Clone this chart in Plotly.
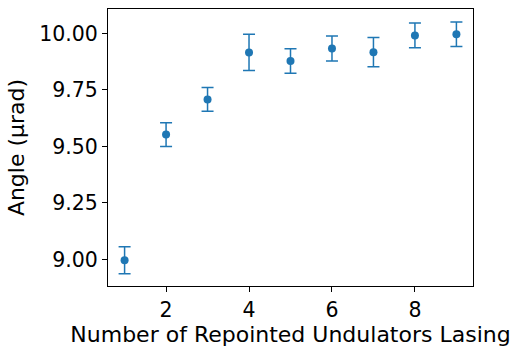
import plotly.graph_objects as go

n_undulators = [1, 2, 3, 4, 5, 6, 7, 8, 9]
angle = [8.996, 9.552, 9.708, 9.916, 9.878, 9.933, 9.917, 9.991, 9.996]
angle_err = [0.060, 0.053, 0.053, 0.080, 0.054, 0.055, 0.065, 0.055, 0.054]

x_ticks = [2, 4, 6, 8]
y_ticks = [9.00, 9.25, 9.50, 9.75, 10.00]
y_tick_labels = ["9.00", "9.25", "9.50", "9.75", "10.00"]

color = "#1f77b4"
font = "DejaVu Sans"

fig = go.Figure(
    go.Scatter(
        x=n_undulators,
        y=angle,
        mode="markers",
        marker=dict(color=color, size=8),
        error_y=dict(type="data", array=angle_err, visible=True,
                     color=color, thickness=1.5, width=6),
    )
)

fig.update_layout(
    width=516,
    height=348,
    margin=dict(l=108, r=43, t=8, b=59),
    paper_bgcolor="white",
    plot_bgcolor="white",
    showlegend=False,
    font=dict(family=font, size=20.5, color="black"),
)

fig.update_xaxes(
    range=[0.6, 9.4],
    tickvals=x_ticks,
    ticks="outside",
    ticklen=5,
    tickcolor="black",
    showgrid=False,
    zeroline=False,
    showline=True,
    linecolor="black",
    linewidth=1,
    mirror=True,
    title=dict(text="Number of Repointed Undulators Lasing", font=dict(size=22), standoff=3),
)
fig.update_yaxes(
    range=[8.882, 10.108],
    tickvals=y_ticks,
    ticktext=y_tick_labels,
    ticks="outside",
    ticklen=5,
    tickcolor="black",
    showgrid=False,
    zeroline=False,
    showline=True,
    linecolor="black",
    linewidth=1,
    mirror=True,
    title=dict(text="Angle (μrad)", font=dict(size=22), standoff=8),
)

fig.write_html("out.html")
